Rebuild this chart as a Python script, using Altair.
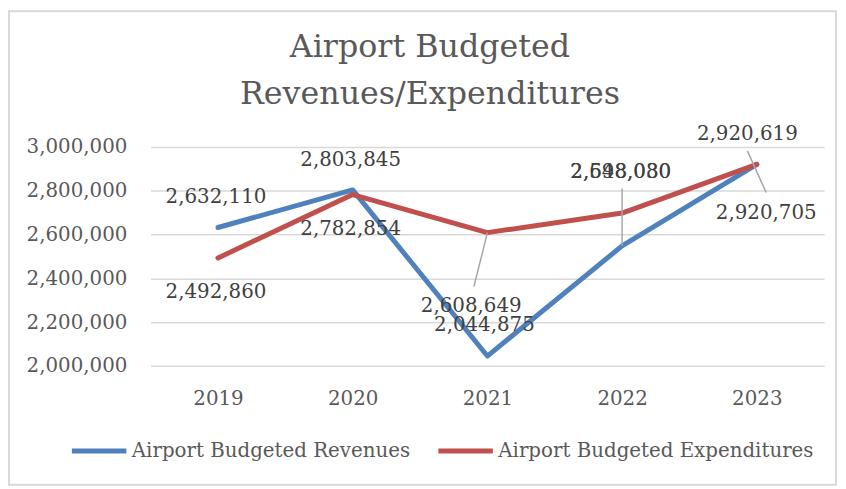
import altair as alt
import pandas as pd

years = [2019, 2020, 2021, 2022, 2023]
revenues = [2632110, 2803845, 2044875, 2548030, 2920619]
expenditures = [2492860, 2782854, 2608649, 2698080, 2920705]
series_names = ["Airport Budgeted Revenues", "Airport Budgeted Expenditures"]
colors = ["#4F81BD", "#C0504D"]
y_ticks = [2000000, 2200000, 2400000, 2600000, 2800000, 3000000]
title_lines = ["Airport Budgeted", "Revenues/Expenditures"]

# data label placement (in data units)
rev_label_x = [2018.985, 2019.985, 2020.978, 2021.99, 2022.93]
rev_label_y = [2769000, 2941000, 2185500, 2887000, 3059000]
exp_label_x = [2018.985, 2019.985, 2020.88, 2021.99, 2023.07]
exp_label_y = [2335000, 2624000, 2271500, 2887000, 2697000]

# leader lines (in data units)
leader_x = [2021.0, 2022.0, 2022.93]
leader_x2 = [2020.9, 2022.0, 2023.07]
leader_y = [2608649, 2548030, 2982000]
leader_y2 = [2362000, 2810000, 2792000]

FONT = "DejaVu Serif"

lines_df = pd.DataFrame({
    "year": years + years,
    "value": revenues + expenditures,
    "series": [series_names[0]] * 5 + [series_names[1]] * 5,
})
labels_df = pd.DataFrame({
    "year": rev_label_x + exp_label_x,
    "value": rev_label_y + exp_label_y,
    "label": revenues + expenditures,
})
leaders_df = pd.DataFrame({"year": leader_x, "x2": leader_x2, "value": leader_y, "y2": leader_y2})

xscale = alt.Scale(domain=[2018.5, 2023.5], nice=False, zero=False)
yscale = alt.Scale(domain=[2000000, 3000000], nice=False, zero=False)

xaxis = alt.Axis(values=years, format="d", grid=False, ticks=False, domain=False,
                 labelFont=FONT, labelFontSize=20, labelColor="#595959", labelPadding=23,
                 title=None)
yaxis = alt.Axis(values=y_ticks, format=",d", grid=True, gridColor="#D9D9D9", gridWidth=1.5,
                 ticks=False, domain=False, labelFont=FONT, labelFontSize=20,
                 labelColor="#595959", labelPadding=24, title=None)

X = alt.X("year:Q", scale=xscale, axis=xaxis)
Y = alt.Y("value:Q", scale=yscale, axis=yaxis)

border = alt.Chart(pd.DataFrame({"a": [0]})).mark_rect(
    fill=None, stroke="#D9D9D9", strokeWidth=2
).encode(
    x=alt.value(-143), x2=alt.value(692), y=alt.value(-137), y2=alt.value(341)
)

lines = alt.Chart(lines_df).mark_line(strokeWidth=5, strokeCap="round", strokeJoin="round").encode(
    x=X,
    y=Y,
    color=alt.Color("series:N", scale=alt.Scale(domain=series_names, range=colors),
                    sort=series_names,
                    legend=alt.Legend(orient="none", legendX=-82, legendY=277, direction="horizontal",
                                      title=None, symbolType="stroke", symbolSize=3025,
                                      symbolStrokeWidth=5, labelFont=FONT, labelFontSize=20,
                                      labelColor="#595959", labelOffset=3, columnPadding=17,
                                      padding=0, labelLimit=400)),
)

leaders = alt.Chart(leaders_df).mark_rule(color="#A6A6A6", strokeWidth=1.5).encode(
    x=X, x2="x2:Q", y=Y, y2="y2:Q",
)

labels = alt.Chart(labels_df).mark_text(font=FONT, fontSize=20, color="#404040",
                                        align="center", baseline="middle").encode(
    x=X, y=Y,
    text=alt.Text("label:Q", format=",d"),
)

chart = alt.layer(border, lines, leaders, labels).properties(
    width=680, height=221,
    padding={"left": 144, "top": 138, "right": 14, "bottom": 122},
    autosize=alt.AutoSizeParams(type="none"),
    title=alt.TitleParams(text=title_lines, font=FONT, fontSize=32, fontWeight="normal",
                          color="#595959", lineHeight=48, anchor="middle", dx=-58,
                          baseline="alphabetic", offset=-127),
).configure_view(stroke=None)

chart.save("out.html", embed_options={"renderer": "svg", "actions": False})
